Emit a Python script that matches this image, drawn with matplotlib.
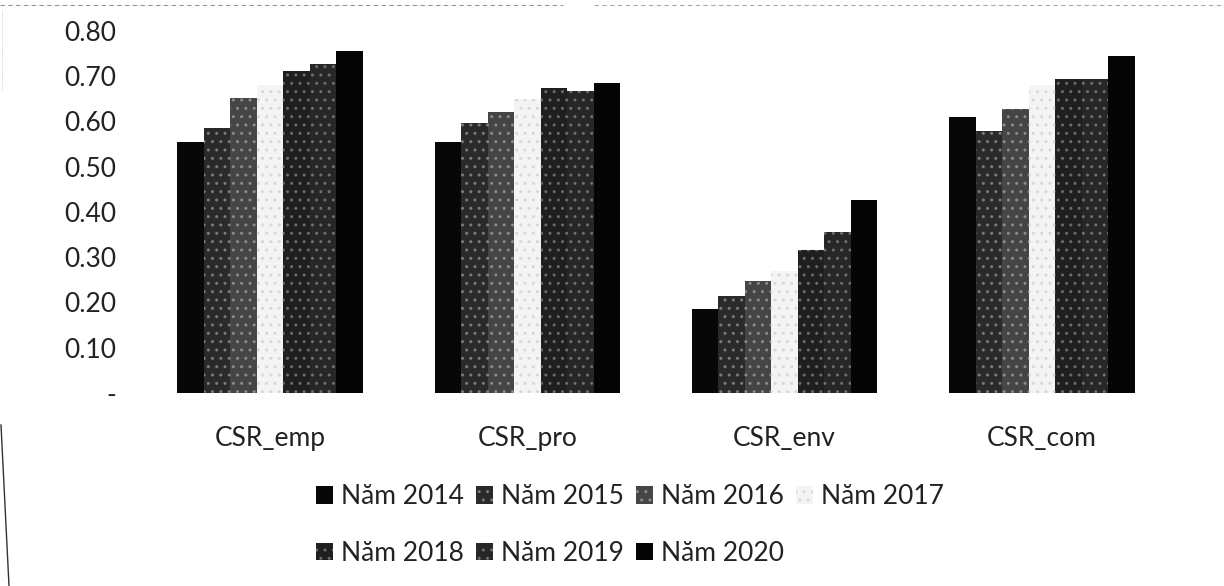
import matplotlib.pyplot as plt
from matplotlib.lines import Line2D
import numpy as np

plt.rcParams['font.family'] = ['Lato', 'DejaVu Sans']
plt.rcParams['hatch.linewidth'] = 1.0

categories = ['CSR_emp', 'CSR_pro', 'CSR_env', 'CSR_com']
years = ['Năm 2014', 'Năm 2015', 'Năm 2016', 'Năm 2017', 'Năm 2018', 'Năm 2019', 'Năm 2020']

v2014 = [0.555, 0.555, 0.185, 0.610]
v2015 = [0.585, 0.597, 0.215, 0.578]
v2016 = [0.653, 0.620, 0.248, 0.628]
v2017 = [0.680, 0.650, 0.270, 0.680]
v2018 = [0.712, 0.675, 0.316, 0.695]
v2019 = [0.728, 0.667, 0.356, 0.695]
v2020 = [0.755, 0.684, 0.427, 0.745]

series = [v2014, v2015, v2016, v2017, v2018, v2019, v2020]
colors = ['#070707', '#2a2a2a', '#454545', '#f4f4f4', '#1f1f1f', '#272727', '#050505']
hatch_col = [None, '#7a7a7a', '#8a8a8a', '#d8d8d8', '#6a6a6a', '#6e6e6e', None]

fig = plt.figure(figsize=(12.24, 5.86), dpi=100)
ax = fig.add_axes([141.5/1224, 1-393/586, 1029/1224, (393-31)/586])

x = np.arange(len(categories))
w = 0.103
handles = []
for i, vals in enumerate(series):
    pos = x + (i - 3) * w
    if hatch_col[i] is None:
        b = ax.bar(pos, vals, w, color=colors[i], linewidth=0, label=years[i])
    else:
        b = ax.bar(pos, vals, w, facecolor=colors[i], edgecolor=hatch_col[i],
                   hatch='..', linewidth=0, label=years[i])
    handles.append(b)

ax.set_xlim(-0.5, 3.5)
ax.set_ylim(0, 0.8)
ax.set_yticks(np.arange(0, 0.81, 0.1))
ax.set_yticklabels(['-'] + ['%.2f' % t for t in np.arange(0.1, 0.81, 0.1)])
ax.set_xticks(x)
ax.set_xticklabels(categories)
ax.tick_params(axis='both', length=0, labelsize=19, colors='#222222')
ax.tick_params(axis='y', pad=18)
ax.tick_params(axis='x', pad=24)
for s in ax.spines.values():
    s.set_visible(False)

# row-major legend order for 4 columns
order = [0, 4, 1, 5, 2, 6, 3]
leg = fig.legend([handles[k] for k in order], [years[k] for k in order],
                 loc='upper left', bbox_to_anchor=(316/1224, 1-484/586), ncol=4,
                 frameon=False, fontsize=19, handlelength=0.65, handleheight=0.65,
                 handletextpad=0.3, columnspacing=0.45, labelspacing=1.2,
                 borderpad=0, borderaxespad=0)
for t in leg.get_texts():
    t.set_color('#222222')

# scanned page border bits
fig.add_artist(Line2D([0.0, 0.46], [1-5/586, 1-5/586], color='#999999', lw=0.8, ls=(0, (4, 3))))
fig.add_artist(Line2D([0.485, 1.0], [1-5/586, 1-5/586], color='#aaaaaa', lw=0.8, ls=(0, (4, 3))))
fig.add_artist(Line2D([2/1224, 2/1224], [1-10/586, 1-90/586], color='#bbbbbb', lw=0.6, ls=':'))
fig.add_artist(Line2D([1/1224, 9/1224], [1-425/586, 0.0], color='#333333', lw=1.0))

fig.savefig('out.png', dpi=100)
